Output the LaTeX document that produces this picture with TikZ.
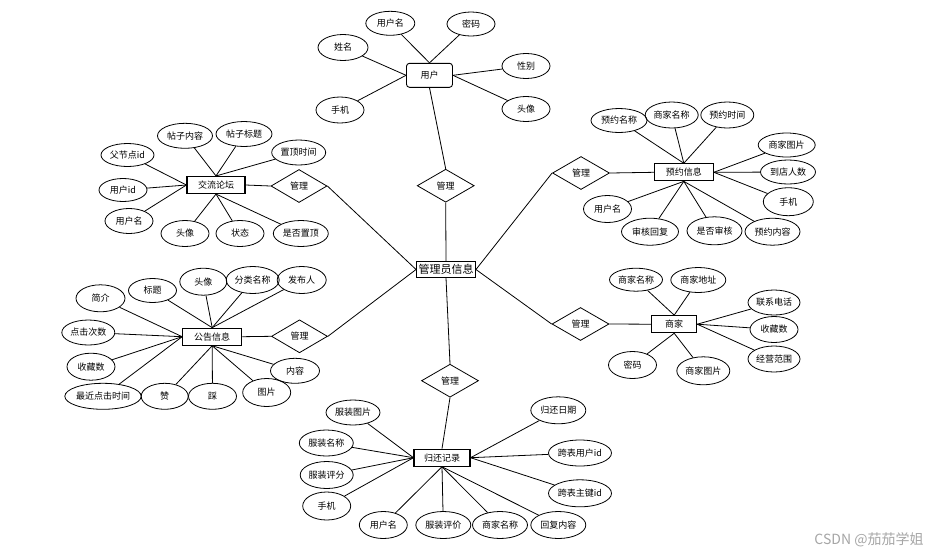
\documentclass[tikz,border=0pt]{standalone}
\usepackage{fontspec}
\setmainfont{Noto Sans CJK SC}
\usetikzlibrary{shapes.geometric}
\begin{document}
\begin{tikzpicture}[x=1pt,y=-1pt,
 attr/.style={ellipse,draw,line width=0.8pt,inner sep=0pt,minimum height=25pt,minimum width=50pt,font=\fontsize{9}{10}\selectfont},
 ent/.style={rectangle,draw,line width=1.1pt,inner sep=0pt,minimum height=17pt,font=\fontsize{9}{10}\selectfont},
 rel/.style={diamond,draw,line width=0.8pt,inner sep=0pt,minimum width=57pt,minimum height=33pt,aspect=1.7,font=\fontsize{9}{10}\selectfont},
 ln/.style={line width=0.8pt}]
\useasboundingbox[fill=white] (0,0) rectangle (942,555);

% central entity
\node[ent,line width=0.9pt,minimum width=59pt,minimum height=16pt,font=\fontsize{11}{12}\selectfont] (adm) at (446,269.5) {管理员信息};

% user
\node[ent,rounded corners=3pt,line width=0.9pt,minimum width=46pt,minimum height=24pt] (user) at (429.5,75.3) {用户};
\node[attr,minimum width=49pt,minimum height=24pt] (u1) at (390.3,23.3) {用户名};
\node[attr,minimum width=48pt,minimum height=24pt] (u2) at (471,24) {密码};
\node[attr,minimum width=50pt,minimum height=26pt] (u3) at (343,47.5) {姓名};
\node[attr,minimum width=48pt,minimum height=25pt] (u4) at (526,66) {性别};
\node[attr,minimum width=48pt,minimum height=26pt] (u5) at (340,110) {手机};
\node[attr,minimum width=48pt,minimum height=25pt] (u6) at (526,109) {头像};
\node[rel] (d1) at (445.7,185.7) {管理};
\draw[ln] (u1) -- (user.north);
\draw[ln] (u2) -- (user.north);
\draw[ln] (u3) -- (user.west);
\draw[ln] (u5) -- (user.west);
\draw[ln] (u4) -- (user.east);
\draw[ln] (u6) -- (user.east);
\draw[ln] (user.south) -- (d1.north);
\draw[ln] (d1.south) -- (adm.north);

% forum
\node[ent,minimum width=58pt] (f) at (216,185) {交流论坛};
\node[attr,minimum width=53pt,minimum height=23pt] (f1) at (127.5,155) {父节点id};
\node[attr,minimum width=55pt,minimum height=25pt] (f2) at (185,135.8) {帖子内容};
\node[attr,minimum width=56pt,minimum height=25pt] (f3) at (244,134) {帖子标题};
\node[attr,minimum width=54pt,minimum height=25pt] (f4) at (298.7,152.5) {置顶时间};
\node[attr,minimum width=48pt,minimum height=23pt] (f5) at (123,190) {用户id};
\node[attr,minimum width=48pt,minimum height=25pt] (f6) at (129,221) {用户名};
\node[attr,minimum width=48pt,minimum height=26pt] (f7) at (185,233.5) {头像};
\node[attr,minimum width=48pt,minimum height=26pt] (f8) at (240,233.5) {状态};
\node[attr,minimum width=55pt,minimum height=26pt] (f9) at (300.8,233.5) {是否置顶};
\node[rel,minimum width=56pt] (d2) at (299,186) {管理};
\foreach \n in {f1,f5,f6} \draw[ln] (\n) -- (f.west);
\foreach \n in {f2,f3,f4} \draw[ln] (\n) -- (f.north);
\foreach \n in {f7,f8,f9} \draw[ln] (\n) -- (f.south);
\draw[ln] (f.east) -- (d2.west);
\draw[ln] (d2.east) -- (adm.west);

% reservation
\node[ent,minimum width=59pt] (r) at (683.8,172.3) {预约信息};
\node[attr,minimum width=56pt,minimum height=24pt] (r1) at (619,120.5) {预约名称};
\node[attr,minimum width=53pt,minimum height=26pt] (r2) at (671.7,115) {商家名称};
\node[attr,minimum width=53pt,minimum height=26pt] (r3) at (727.3,115) {预约时间};
\node[attr,minimum width=57pt,minimum height=24pt] (r4) at (786.7,145) {商家图片};
\node[attr,minimum width=55pt,minimum height=24pt] (r5) at (788,172) {到店人数};
\node[attr,minimum width=50pt,minimum height=28pt] (r6) at (788.3,201.7) {手机};
\node[attr,minimum width=48pt,minimum height=27pt] (r7) at (607.5,209) {用户名};
\node[attr,minimum width=57pt,minimum height=27pt] (r8) at (650,231.7) {审核回复};
\node[attr,minimum width=55pt,minimum height=28pt] (r9) at (714.5,230.8) {是否审核};
\node[attr,minimum width=55pt,minimum height=27pt] (r10) at (772.5,231.7) {预约内容};
\node[rel] (d3) at (581,173) {管理};
\foreach \n in {r1,r2,r3} \draw[ln] (\n) -- (r.north);
\foreach \n in {r4,r5,r6} \draw[ln] (\n) -- (r.east);
\foreach \n in {r7,r8,r9,r10} \draw[ln] (\n) -- (r.south);
\draw[ln] (d3.east) -- (r.west);
\draw[ln] (d3.west) -- (adm.east);

% bulletin
\node[ent,minimum width=59pt] (b) at (212.2,336.7) {公告信息};
\node[attr,minimum width=49pt,minimum height=27pt] (b1) at (100.5,298.3) {简介};
\node[attr,minimum width=48pt,minimum height=24pt] (b2) at (152.5,290.5) {标题};
\node[attr,minimum width=47pt,minimum height=27pt] (b3) at (203.3,281.7) {头像};
\node[attr,minimum width=53pt,minimum height=27pt] (b4) at (252.7,280) {分类名称};
\node[attr,minimum width=49pt,minimum height=27pt] (b5) at (301.7,280) {发布人};
\node[attr,minimum width=53pt,minimum height=25pt] (b6) at (88.3,332.5) {点击次数};
\node[attr,minimum width=48pt,minimum height=27pt] (b7) at (91,366.7) {收藏数};
\node[attr,minimum width=73pt,minimum height=26pt] (b8) at (103,396.3) {最近点击时间};
\node[attr,minimum width=47pt,minimum height=26pt] (b9) at (164.7,396.3) {赞};
\node[attr,minimum width=48pt,minimum height=26pt] (b10) at (212.5,396.3) {踩};
\node[attr,minimum width=48pt,minimum height=28pt] (b11) at (266.7,392.5) {图片};
\node[attr,minimum width=49pt,minimum height=25pt] (b12) at (295,370.8) {内容};
\node[rel,minimum width=56pt] (d4) at (299.5,336.3) {管理};
\foreach \n in {b1,b6,b7,b8} \draw[ln] (\n) -- (b.west);
\foreach \n in {b2,b3,b4,b5} \draw[ln] (\n) -- (b.north);
\foreach \n in {b9,b10,b11,b12} \draw[ln] (\n) -- (b.south);
\draw[ln] (b.east) -- (d4.west);
\draw[ln] (d4.east) -- (adm.west);

% merchant
\node[ent,minimum width=45pt] (m) at (674.2,324.2) {商家};
\node[attr,minimum width=53pt,minimum height=23pt] (m1) at (636,279.7) {商家名称};
\node[attr,minimum width=55pt,minimum height=25pt] (m2) at (698.3,280) {商家地址};
\node[attr,minimum width=52pt,minimum height=25pt] (m3) at (774,302.5) {联系电话};
\node[attr,minimum width=48pt,minimum height=26pt] (m4) at (774,329.5) {收藏数};
\node[attr,minimum width=52pt,minimum height=26pt] (m5) at (774,359) {经营范围};
\node[attr,minimum width=48pt,minimum height=27pt] (m6) at (632.5,365) {密码};
\node[attr,minimum width=53pt,minimum height=28pt] (m7) at (703.3,370.8) {商家图片};
\node[rel] (d5) at (580.5,324) {管理};
\foreach \n in {m1,m2} \draw[ln] (\n) -- (m.north);
\foreach \n in {m3,m4,m5} \draw[ln] (\n) -- (m.east);
\foreach \n in {m6,m7} \draw[ln] (\n) -- (m.south);
\draw[ln] (d5.east) -- (m.west);
\draw[ln] (d5.west) -- (adm.east);

% return record
\node[ent,minimum width=56pt] (g) at (442,457.7) {归还记录};
\node[attr,minimum width=54pt,minimum height=25pt] (g1) at (353,412.5) {服装图片};
\node[attr,minimum width=54pt,minimum height=26pt] (g2) at (326.3,443) {服装名称};
\node[attr,minimum width=53pt,minimum height=27pt] (g3) at (326.7,475) {服装评分};
\node[attr,minimum width=48pt,minimum height=28pt] (g4) at (326.7,506) {手机};
\node[attr,minimum width=48pt,minimum height=27pt] (g5) at (383.3,525) {用户名};
\node[attr,minimum width=55pt,minimum height=27pt] (g6) at (443.3,525) {服装评价};
\node[attr,minimum width=55pt,minimum height=27pt] (g7) at (500,525) {商家名称};
\node[attr,minimum width=55pt,minimum height=27pt] (g8) at (558.3,525) {回复内容};
\node[attr,minimum width=55pt,minimum height=27pt] (g9) at (558.3,410.3) {归还日期};
\node[attr,minimum width=63pt,minimum height=26pt] (g10) at (580,453) {跨表用户id};
\node[attr,minimum width=63pt,minimum height=27pt] (g11) at (580,493.3) {跨表主键id};
\node[rel] (d6) at (450,380.7) {管理};
\foreach \n in {g1,g2,g3,g4} \draw[ln] (\n) -- (g.west);
\foreach \n in {g5,g6,g7,g8} \draw[ln] (\n) -- (g.south);
\foreach \n in {g9,g10,g11} \draw[ln] (\n) -- (g.east);
\draw[ln] (adm.south) -- (d6.north);
\draw[ln] (d6.south) -- (g.north);

% watermark
\node[text=black!35,font=\fontsize{14}{15}\selectfont] (wm) at (869,540) {CSDN @茄茄学姐};
\end{tikzpicture}
\end{document}
